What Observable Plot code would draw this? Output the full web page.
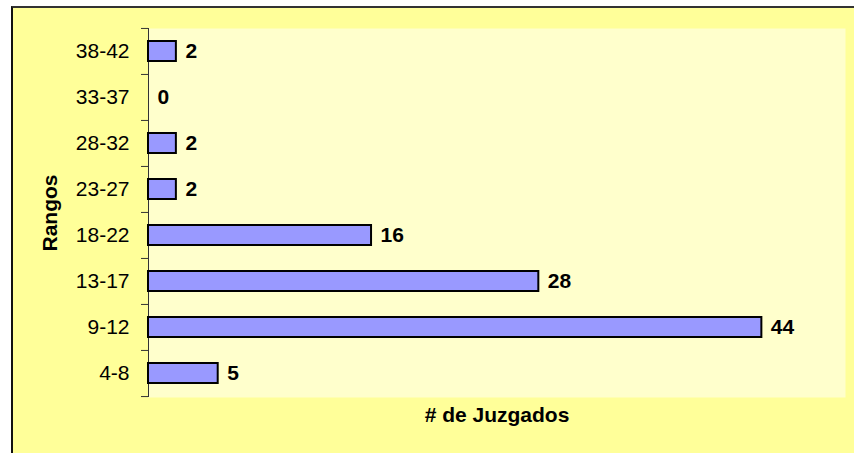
<!DOCTYPE html>
<html>
<head>
<meta charset="utf-8">
<script src="https://cdn.jsdelivr.net/npm/d3@7"></script>
<script src="https://cdn.jsdelivr.net/npm/@observablehq/plot@0.6"></script>
<style>
  html, body { margin: 0; padding: 0; background: #ffffff; overflow: hidden; }
  body { position: relative; width: 854px; height: 453px; }
  #bg { position: absolute; left: 11px; top: 6px; width: 860px; height: 460px;
        background: #FFFF99; border-left: 2px solid #111; border-top: 2px solid #333; }
  #chart { position: absolute; left: 0; top: 0; }
</style>
</head>
<body>
<div id="bg"></div>
<div id="chart"></div>
<script>
// Data (bottom-to-top order as in the reference)
const ranges = ["4-8", "9-12", "13-17", "18-22", "23-27", "28-32", "33-37", "38-42"];
const counts = [5, 44, 28, 16, 2, 2, 0, 2];
const xTitle = "# de Juzgados";
const yTitle = "Rangos";

const data = ranges.map((r, i) => ({range: r, value: counts[i]}));
const W = 854, H = 453;
const mTop = 28, mBottom = 56, mLeft = 148, mRight = 9;
const step = (H - mTop - mBottom) / ranges.length;
const font = "'Liberation Sans', Arial, sans-serif";
const fs = 21;

const chart = Plot.plot({
  width: W, height: H,
  marginTop: mTop, marginBottom: mBottom, marginLeft: mLeft, marginRight: mRight,
  style: {background: "transparent", fontFamily: font, fontSize: fs + "px", color: "#000"},
  x: {domain: [0, 50], axis: null},
  y: {domain: ranges.slice().reverse(), paddingInner: 0.565, paddingOuter: 0.2825, axis: null},
  marks: [
    Plot.frame({fill: "#FFFFCC", stroke: null}),
    // category labels
    Plot.axisY({tickSize: 0, tickPadding: 19, fontSize: fs, fill: "#000", label: null}),
    // boundary ticks between categories
    Plot.axisY({tickSize: 7, tickFormat: () => "", dy: -step / 2, stroke: "#333", label: null}),
    Plot.axisY({ticks: [ranges[0]], tickSize: 7, tickFormat: () => "", dy: step / 2, stroke: "#333", label: null}),
    Plot.ruleX([0], {stroke: "#333", strokeWidth: 1}),
    Plot.barX(data, {x: "value", y: "range", fill: "#9999FF", stroke: "#000", strokeWidth: 2}),
    Plot.text(data, {x: "value", y: "range", text: d => String(d.value), dx: 9, textAnchor: "start",
      fontWeight: "bold", fontSize: fs, fill: "#000"}),
    Plot.text([xTitle], {frameAnchor: "bottom", dy: 18, lineAnchor: "middle", textAnchor: "middle", text: d => d,
      fontWeight: "bold", fontSize: fs, fill: "#000"}),
    Plot.text([yTitle], {frameAnchor: "left", dx: -98, rotate: -90, lineAnchor: "middle", textAnchor: "middle", text: d => d,
      fontWeight: "bold", fontSize: fs, fill: "#000"})
  ]
});
document.getElementById("chart").appendChild(chart);
</script>
</body>
</html>
